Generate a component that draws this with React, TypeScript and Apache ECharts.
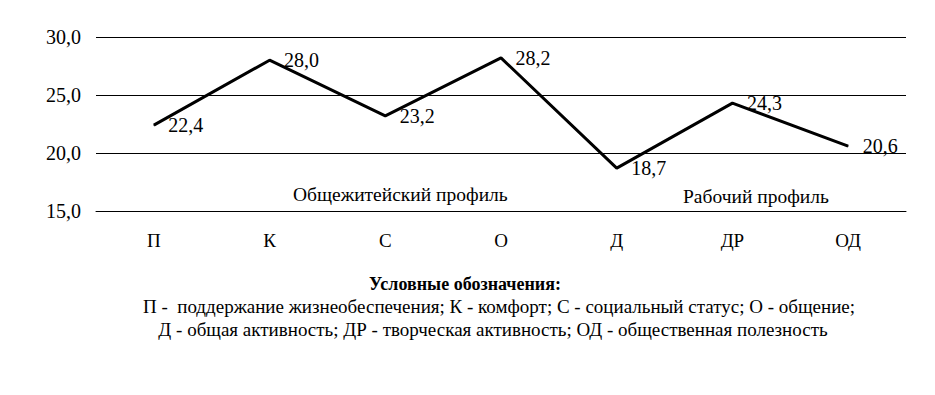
import React, { useEffect, useRef } from "react";
import * as echarts from "echarts";

const categories = ["П", "К", "С", "О", "Д", "ДР", "ОД"];
const values = [22.4, 28.0, 23.2, 28.2, 18.7, 24.3, 20.6];
const profileLabels = ["Общежитейский профиль", "Рабочий профиль"];
const legendTitle = "Условные обозначения:";
const legendLines = [
  "П -  поддержание жизнеобеспечения; К - комфорт; С - социальный статус; О - общение;",
  "Д - общая активность; ДР - творческая активность; ОД - общественная полезность",
];

const FONT = "Liberation Serif";
const FS = 20;

export default function App() {
  const ref = useRef<HTMLDivElement>(null);
  useEffect(() => {
    const chart = echarts.init(ref.current!, null, { renderer: "svg" });
    chart.setOption({
      animation: false,
      grid: { left: 88, right: 21, top: 29, bottom: 176 },
      xAxis: {
        type: "category",
        data: categories,
        boundaryGap: true,
        axisLine: { show: true, lineStyle: { color: "#000", width: 1 } },
        axisTick: { show: false },
        axisLabel: { color: "#000", fontFamily: FONT, fontSize: 19, margin: 20 },
      },
      yAxis: {
        type: "value",
        min: 15,
        max: 30,
        interval: 5,
        axisLine: { show: false },
        axisTick: { show: false },
        splitLine: { lineStyle: { color: "#000", width: 1 } },
        axisLabel: {
          color: "#000",
          fontFamily: FONT,
          fontSize: FS,
          margin: 15,
          formatter: (v: number) => v.toFixed(1).replace(".", ","),
        },
      },
      series: [
        {
          type: "line",
          data: values,
          symbol: "circle",
          symbolSize: 1,
          showSymbol: true,
          itemStyle: { color: "#000" },
          lineStyle: { color: "#000", width: 3 },
          label: {
            show: true,
            position: "right",
            distance: 14,
            color: "#000",
            fontFamily: FONT,
            fontSize: FS,
            formatter: (p: any) => Number(p.value).toFixed(1).replace(".", ","),
          },
        },
      ],
      graphic: [
        {
          type: "text",
          left: 285,
          top: 176,
          style: { text: profileLabels[0], fill: "#000", fontFamily: FONT, fontSize: 19.5 },
        },
        {
          type: "text",
          left: 675,
          top: 178,
          style: { text: profileLabels[1], fill: "#000", fontFamily: FONT, fontSize: 19.5 },
        },
        {
          type: "text",
          x: 457,
          y: 276,
          style: {
            text: legendTitle,
            fill: "#000",
            fontFamily: FONT,
            fontSize: 18,
            fontWeight: "bold",
            align: "center",
            verticalAlign: "middle",
          },
        },
        {
          type: "text",
          x: 491,
          y: 298,
          style: {
            text: legendLines[0],
            fill: "#000",
            fontFamily: FONT,
            fontSize: 19,
            align: "center",
            verticalAlign: "middle",
          },
        },
        {
          type: "text",
          x: 485,
          y: 321,
          style: {
            text: legendLines[1],
            fill: "#000",
            fontFamily: FONT,
            fontSize: 19,
            align: "center",
            verticalAlign: "middle",
          },
        },
      ],
    });
    return () => chart.dispose();
  }, []);
  return <div ref={ref} style={{ width: 919, height: 379 }} />;
}
